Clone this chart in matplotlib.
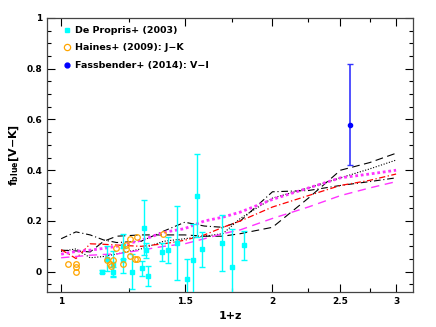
import numpy as np
import matplotlib
matplotlib.use("Agg")
import matplotlib.pyplot as plt
from matplotlib.ticker import FixedLocator, NullFormatter, MultipleLocator
from matplotlib.lines import Line2D

# ---------------- data ----------------
# model curves (1+z grid)
model_x = [1.0, 1.05, 1.1, 1.15, 1.2, 1.3, 1.4, 1.5, 1.6, 1.7, 1.8, 2.0, 2.25, 2.5, 2.75, 3.0]
black_dashed   = [0.085, 0.082, 0.078, 0.12, 0.14, 0.145, 0.145, 0.145, 0.14, 0.14, 0.15, 0.175, 0.29, 0.40, 0.43, 0.467]
black_dotted   = [0.08, 0.09, 0.055, 0.06, 0.07, 0.09, 0.12, 0.13, 0.14, 0.15, 0.21, 0.29, 0.33, 0.37, 0.405, 0.44]
black_dashdot  = [0.13, 0.157, 0.145, 0.125, 0.115, 0.12, 0.16, 0.195, 0.18, 0.175, 0.20, 0.315, 0.32, 0.34, 0.355, 0.37]
red_dashdot    = [0.087, 0.052, 0.11, 0.108, 0.105, 0.10, 0.11, 0.124, 0.145, 0.175, 0.20, 0.255, 0.30, 0.34, 0.36, 0.385]
magenta_dotted = [0.069, 0.08, 0.085, 0.092, 0.10, 0.124, 0.155, 0.17, 0.20, 0.215, 0.235, 0.285, 0.33, 0.37, 0.385, 0.40]
magenta_dashed = [0.055, 0.06, 0.065, 0.068, 0.07, 0.085, 0.10, 0.11, 0.13, 0.15, 0.165, 0.21, 0.255, 0.30, 0.33, 0.355]

# De Propris+ (2003)
dp_x   = [1.143, 1.162, 1.184, 1.184, 1.226, 1.226, 1.26, 1.302, 1.314, 1.322, 1.328,
          1.391, 1.419, 1.461, 1.509, 1.539, 1.56, 1.585, 1.693, 1.754, 1.82]
dp_y   = [0.0, 0.052, 0.032, 0.0, 0.10, 0.045, 0.0, 0.013, 0.174, 0.085, -0.018,
          0.078, 0.085, 0.114, -0.03, 0.048, 0.30, 0.088, 0.114, 0.019, 0.104]
dp_err = [0.005, 0.05, 0.05, 0.02, 0.05, 0.05, 0.07, 0.03, 0.11, 0.03, 0.04,
          0.035, 0.05, 0.145, 0.08, 0.14, 0.165, 0.07, 0.11, 0.15, 0.057]

# Haines+ (2009): J-K
ha_x = [1.024, 1.049, 1.049, 1.049, 1.162, 1.174, 1.178, 1.184, 1.197, 1.226, 1.236,
        1.238, 1.254, 1.254, 1.274, 1.281, 1.284, 1.398]
ha_y = [0.03, 0.032, 0.017, 0.0, 0.048, 0.032, 0.022, 0.048, 0.095, 0.032, 0.088,
        0.105, 0.127, 0.061, 0.052, 0.137, 0.052, 0.148]

# Fassbender+ (2014): V-I
fa_x = [2.58]
fa_y = [0.58]
fa_lo = [0.16]
fa_hi = [0.24]

legend_labels = ["De Propris+ (2003)", "Haines+ (2009): J\u2212K", "Fassbender+ (2014): V\u2212I"]
xticks = [1, 1.5, 2, 2.5, 3]
xtick_labels = ["1", "1.5", "2", "2.5", "3"]
xminor = [1.25, 1.75, 2.25, 2.75]

# ---------------- figure ----------------
plt.rcParams['font.family'] = ['DejaVu Sans']
plt.rcParams['font.weight'] = 'bold'
fig = plt.figure(figsize=(4.36, 3.27), dpi=100)
ax = fig.add_axes([0.108, 0.107, 0.839, 0.838])
ax.set_xscale('log')

ax.plot(model_x, black_dashed, color='black', lw=0.8, ls=(0, (7, 4)))
ax.plot(model_x, black_dotted, color='black', lw=0.8, ls=(0, (1, 1.5)))
ax.plot(model_x, black_dashdot, color='black', lw=0.8, ls=(0, (6, 2.5, 1, 2.5)))
ax.plot(model_x, red_dashdot, color='red', lw=0.9, ls=(0, (5, 2, 1, 2)))
ax.plot(model_x, magenta_dotted, color='#ff33ff', lw=2.0, ls=(0, (1, 1)))
ax.plot(model_x, magenta_dashed, color='#ff33ff', lw=1.0, ls=(0, (6, 4)))

ax.errorbar(dp_x, dp_y, yerr=dp_err, fmt='s', ms=2.5, color='cyan', ecolor='cyan',
            elinewidth=1.0, capsize=2.5, capthick=1.0, zorder=3)
ax.plot(ha_x, ha_y, 'o', ms=4, mfc='none', mec='orange', mew=0.9, zorder=4)
ax.errorbar(fa_x, fa_y, yerr=[fa_lo, fa_hi], fmt='o', ms=3, color='blue', ecolor='#3333ff',
            elinewidth=1.2, capsize=2.5, capthick=1.0, zorder=4)

ax.set_xlim(0.955, 3.17)
ax.set_ylim(-0.08, 1.0)

ax.xaxis.set_major_locator(FixedLocator(xticks))
ax.set_xticklabels(xtick_labels)
ax.xaxis.set_minor_locator(FixedLocator(xminor))
ax.xaxis.set_minor_formatter(NullFormatter())
ax.yaxis.set_major_locator(MultipleLocator(0.2))
ax.yaxis.set_minor_locator(MultipleLocator(0.05))
ax.set_yticks([0, 0.2, 0.4, 0.6, 0.8, 1.0])
ax.set_yticklabels(["0", "0.2", "0.4", "0.6", "0.8", "1"])

ax.tick_params(which='both', direction='in', top=True, right=True, labelsize=6.5, width=0.8)
ax.tick_params(which='major', length=6)
ax.tick_params(which='minor', length=3)
for lab in ax.get_xticklabels() + ax.get_yticklabels():
    lab.set_fontweight('bold')
for s in ax.spines.values():
    s.set_linewidth(0.9)
    s.set_color('#444444')

ax.set_xlabel("1+z", fontsize=8, fontweight='bold', labelpad=4)
ax.set_ylabel(r"f$_{\mathbf{blue}}$[V$-$K]", fontsize=8, fontweight='bold', labelpad=4)

handles = [
    Line2D([], [], marker='s', ls='none', ms=3, color='cyan'),
    Line2D([], [], marker='o', ls='none', ms=4.5, mfc='none', mec='orange', mew=0.9),
    Line2D([], [], marker='o', ls='none', ms=3.5, color='blue'),
]
leg = ax.legend(handles, legend_labels, loc='upper left', frameon=False,
                prop={'size': 6.8, 'weight': 'bold'}, handlelength=0.8,
                handletextpad=0.5, labelspacing=0.9, borderaxespad=0.3,
                bbox_to_anchor=(0.025, 0.995))

fig.savefig("out.png", dpi=100)
